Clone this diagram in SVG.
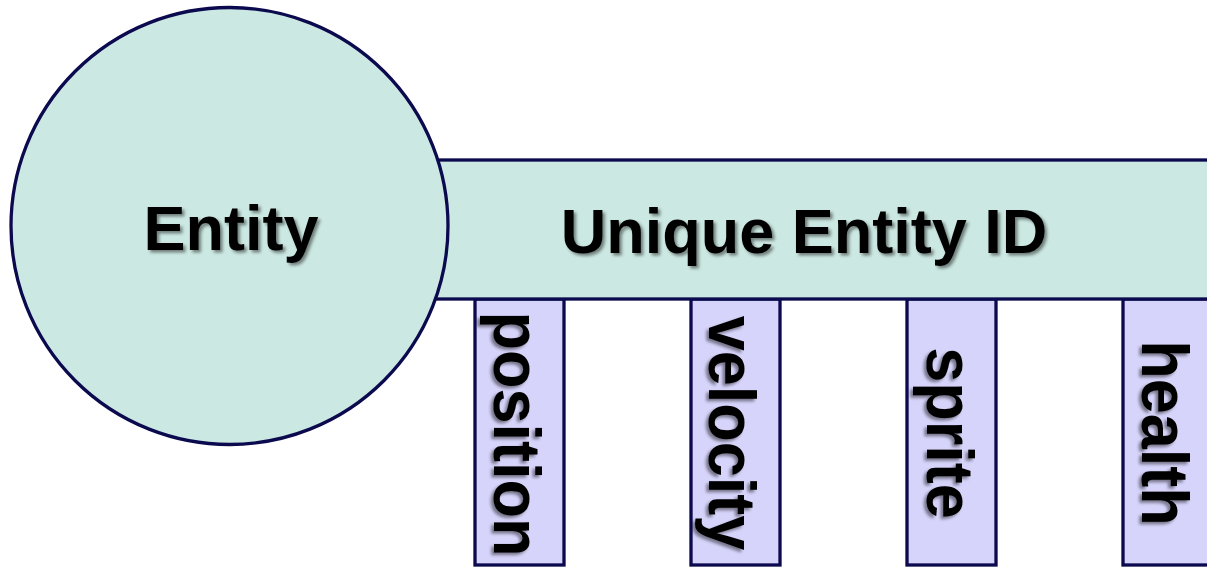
<svg xmlns="http://www.w3.org/2000/svg" width="1207" height="567" viewBox="0 0 1207 567">
  <defs>
    <filter id="shadow" x="-10%" y="-10%" width="130%" height="140%">
      <feDropShadow dx="2.5" dy="2.5" stdDeviation="1.5" flood-color="#000" flood-opacity="0.45"/>
    </filter>
    <filter id="shadowV" x="-20%" y="-10%" width="140%" height="130%">
      <feDropShadow dx="2.5" dy="2.5" stdDeviation="1.5" flood-color="#000" flood-opacity="0.45"/>
    </filter>
  </defs>
  <style>
    .shape { stroke: #0b0a4f; stroke-width: 3.3; }
    .teal { fill: #cce8e2; }
    .comp { fill: #d6d4fa; }
    .lbl { font-family: "Liberation Sans", Arial, sans-serif; font-weight: bold; font-size: 63px; fill: #000; text-anchor: middle; }
  </style>
  <rect width="1207" height="567" fill="#ffffff"/>
  <g id="connectors"></g>
  <g id="comp-position">
    <rect class="shape comp" x="475" y="299" width="89" height="266"/>
    <text class="lbl" filter="url(#shadowV)" transform="translate(494,434) rotate(90) scale(1,1.07)">position</text>
  </g>
  <g id="comp-velocity">
    <rect class="shape comp" x="691" y="299" width="89" height="266"/>
    <text class="lbl" filter="url(#shadowV)" transform="translate(709,433) rotate(90) scale(1,1.07)">velocity</text>
  </g>
  <g id="comp-sprite">
    <rect class="shape comp" x="907" y="299" width="89" height="266"/>
    <text class="lbl" filter="url(#shadowV)" transform="translate(927,433) rotate(90) scale(1,1.07)">sprite</text>
  </g>
  <g id="comp-health">
    <rect class="shape comp" x="1123" y="299" width="89" height="266"/>
    <text class="lbl" filter="url(#shadowV)" transform="translate(1142,433) rotate(90) scale(1,1.07)">health</text>
  </g>
  <g id="id-bar">
    <rect class="shape teal" x="300" y="160" width="920" height="139"/>
    <text class="lbl" filter="url(#shadow)" x="804" y="253">Unique Entity ID</text>
  </g>
  <g id="entity">
    <circle class="shape teal" cx="229.5" cy="226" r="218.5"/>
    <text class="lbl" filter="url(#shadow)" x="231" y="250">Entity</text>
  </g>
</svg>
